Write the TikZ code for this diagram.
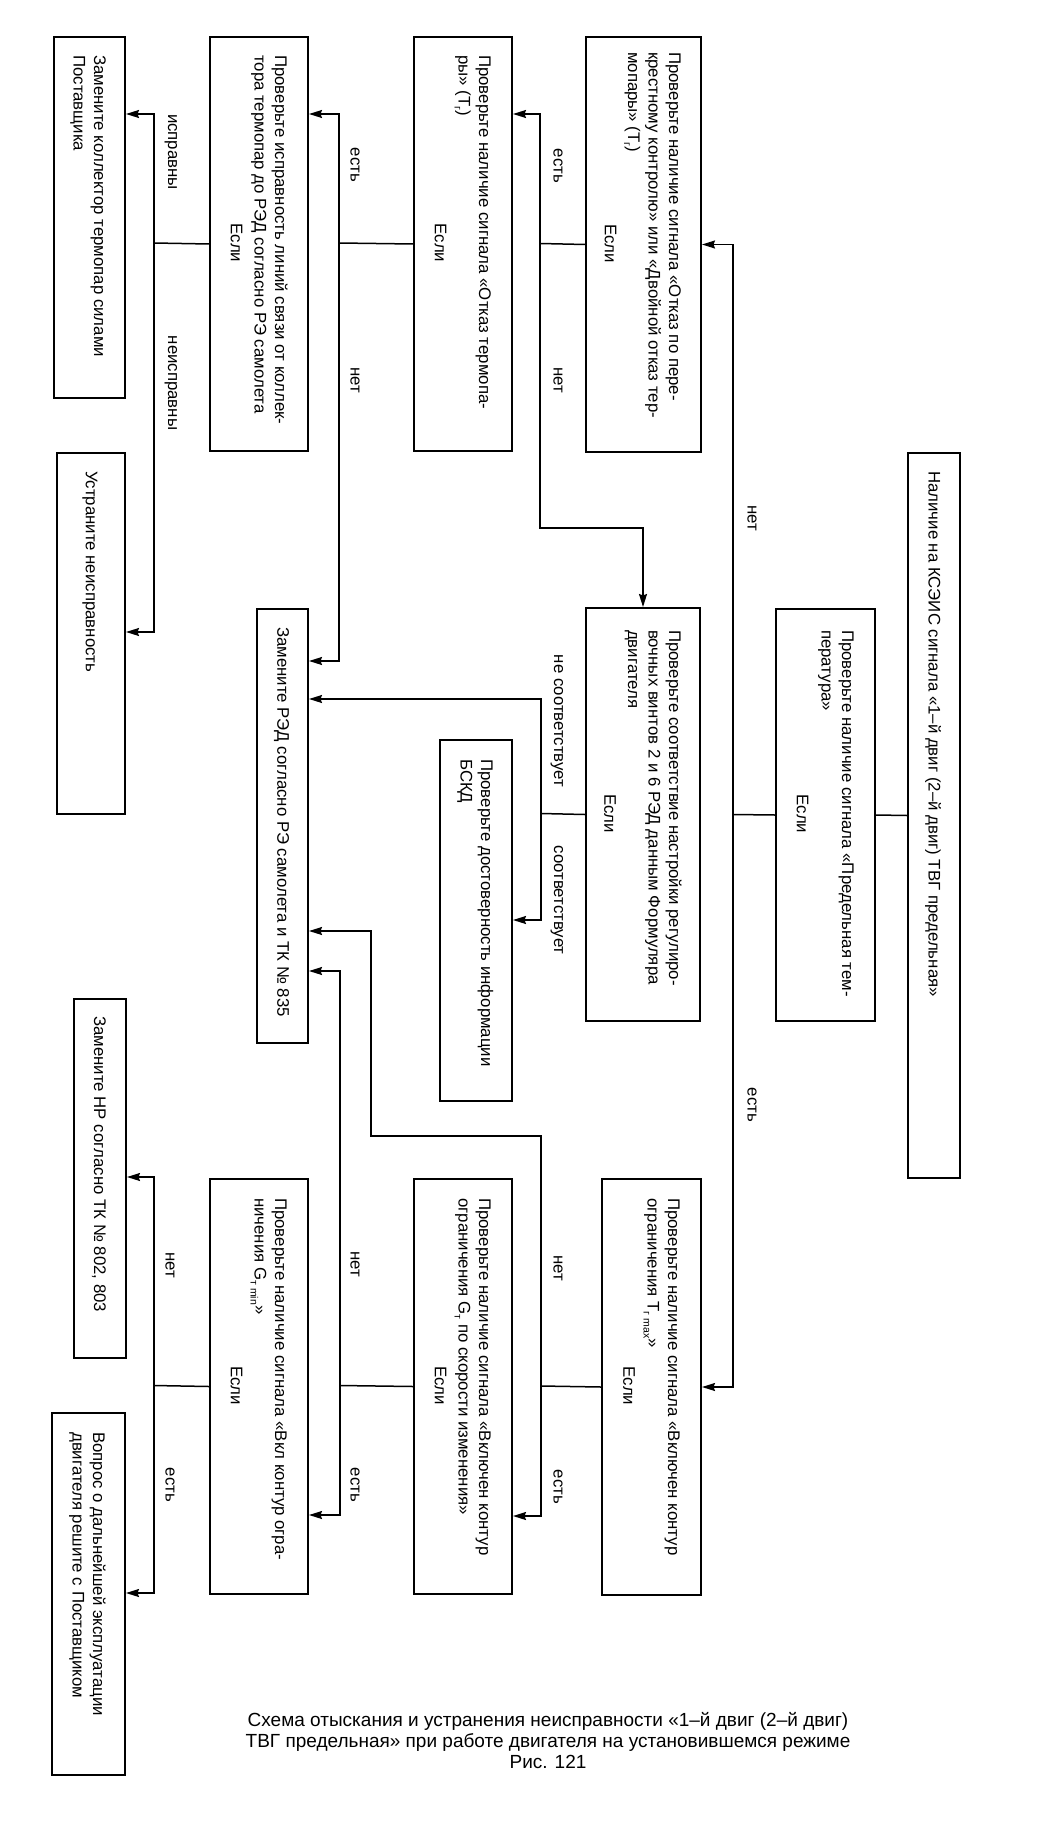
\documentclass[tikz,border=0pt]{standalone}
\usepackage{fontspec}
\setmainfont{Liberation Sans}
\usetikzlibrary{arrows.meta}
\newcommand\sbs[1]{\raisebox{-0.25em}{\fontsize{10.5}{10.5}\selectfont #1}}
\newcommand\fs{\rule{0pt}{12.6pt}}
\newcommand\boxfont{\fontsize{16.8}{20.5}\selectfont}
\tikzset{
  box/.style={draw, line width=2pt, inner sep=0pt, anchor=north west, rectangle},
  txt/.style={rotate=-90, anchor=north west, align=left, inner sep=0pt, font=\boxfont},
  one/.style={rotate=-90, anchor=west, inner sep=0pt, font=\boxfont},
  lbl/.style={rotate=-90, anchor=center, inner sep=0pt, font=\boxfont},
  wire/.style={line width=1.5pt},
  arr/.style={wire, -{Stealth[length=13pt,width=8pt,inset=1.5pt]}}
}
\begin{document}
\begin{tikzpicture}[x=1pt,y=-1pt]
\useasboundingbox (0,0) rectangle (1049,1843);
\fill[white] (0,0) rectangle (1049,1843);
% boxes
\node[box, minimum width=52pt, minimum height=725pt] (bT0) at (907,452) {};
\node[box, minimum width=99pt, minimum height=412pt] (bB1) at (775,608) {};
\node[box, minimum width=115pt, minimum height=415pt] (bA) at (585,36) {};
\node[box, minimum width=114pt, minimum height=413pt] (bC) at (585,607) {};
\node[box, minimum width=72pt, minimum height=361pt] (bF) at (439,739) {};
\node[box, minimum width=99pt, minimum height=416pt] (bD) at (601,1178) {};
\node[box, minimum width=98pt, minimum height=414pt] (bE) at (413,36) {};
\node[box, minimum width=98pt, minimum height=415pt] (bG) at (413,1178) {};
\node[box, minimum width=98pt, minimum height=414pt] (bH) at (209,36) {};
\node[box, minimum width=51pt, minimum height=434pt] (bI) at (256,608) {};
\node[box, minimum width=98pt, minimum height=415pt] (bJ) at (209,1178) {};
\node[box, minimum width=71pt, minimum height=361pt] (bK) at (53,36) {};
\node[box, minimum width=68pt, minimum height=361pt] (bL) at (56,452) {};
\node[box, minimum width=52pt, minimum height=359pt] (bM) at (73,998) {};
\node[box, minimum width=73pt, minimum height=362pt] (bN) at (51,1412) {};
% texts
\node[one] (tT0) at (933,471) {Наличие на КСЭИС сигнала «1–й двиг (2–й двиг) ТВГ предельная»};
\node[txt] (tB1) at (855,630) {\fs Проверьте наличие сигнала «Предельная тем-\\пература»};
\node[lbl] (eB1) at (802.5,814) {Если};
\node[txt] (tA) at (682,52) {\fs Проверьте наличие сигнала «Отказ по пере-\\крестному контролю» или «Двойной отказ тер-\\мопары» (Т\sbs{г})};
\node[lbl] (eA) at (610.5,243.5) {Если};
\node[txt] (tC) at (682,630) {\fs Проверьте соответствие настройки регулиро-\\вочных винтов 2 и 6 РЭД данным Формуляра\\двигателя};
\node[lbl] (eC) at (610,813.5) {Если};
\node[txt] (tF) at (494,759) {\fs Проверьте достоверность информации\\БСКД};
\node[txt] (tD) at (681,1198) {\fs Проверьте наличие сигнала «Включен контур\\ограничения Т\sbs{г max}»};
\node[lbl] (eD) at (629,1386) {Если};
\node[txt] (tE) at (492,55) {\fs Проверьте наличие сигнала «Отказ термопа-\\ры» (Т\sbs{г})};
\node[lbl] (eE) at (440.5,243) {Если};
\node[txt] (tG) at (492,1198) {\fs Проверьте наличие сигнала «Включен контур\\ограничения G\sbs{т} по скорости изменения»};
\node[lbl] (eG) at (440.5,1385.5) {Если};
\node[txt] (tH) at (288,55) {\fs Проверьте исправность линий связи от коллек-\\тора термопар до РЭД согласно РЭ самолета};
\node[lbl] (eH) at (236.5,243) {Если};
\node[one] (tI) at (281.5,627) {Замените РЭД согласно РЭ самолета и ТК № 835};
\node[txt] (tJ) at (288,1198) {\fs Проверьте наличие сигнала «Вкл контур огра-\\ничения G\sbs{т min}»};
\node[lbl] (eJ) at (236.5,1385.5) {Если};
\node[txt] (tK) at (107,55) {\fs Замените коллектор термопар силами\\Поставщика};
\node[one] (tL) at (90,471) {Устраните неисправность};
\node[one] (tM) at (99,1016) {Замените НР согласно ТК № 802, 803};
\node[txt] (tN) at (106,1432) {\fs Вопрос о дальнейшей эксплуатации\\двигателя решите с Поставщиком};
% connectors
\coordinate (p1) at (733,814.5);
\draw[wire] (bT0.west) -- (bB1.east);
\draw[wire] (bB1.west) -- (p1);
\draw[arr] (p1) |- (bA.east);
\draw[arr] (p1) |- (bD.east);
\coordinate (p2) at (540,243.5);
\draw[wire] (bA.west) -- (p2);
\draw[arr] (p2) |- (bE.east |- 0,114);
\draw[arr] (p2) -- (540,528) -| (bC.north);
\coordinate (p3) at (339,243);
\draw[wire] (bE.west) -- (p3);
\draw[arr] (p3) |- (bH.east |- 0,114);
\draw[arr] (p3) |- (bI.east |- 0,661);
\coordinate (p4) at (154,243);
\draw[wire] (bH.west) -- (p4);
\draw[arr] (p4) |- (bK.east |- 0,114);
\draw[arr] (p4) |- (bL.east |- 0,632);
\coordinate (p5) at (541,813.5);
\draw[wire] (bC.west) -- (p5);
\draw[arr] (p5) |- (bI.east |- 0,699);
\draw[arr] (p5) |- (bF.east |- 0,920);
\coordinate (p6) at (541,1386);
\draw[wire] (bD.west) -- (p6);
\draw[arr] (p6) |- (bG.east |- 0,1516);
\draw[arr] (p6) -- (541,1136) -| (371,931) -- (bI.east |- 0,931);
\coordinate (p7) at (340,1385.5);
\draw[wire] (bG.west) -- (p7);
\draw[arr] (p7) |- (bI.east |- 0,971);
\draw[arr] (p7) |- (bJ.east |- 0,1515);
\coordinate (p8) at (154,1385.5);
\draw[wire] (bJ.west) -- (p8);
\draw[arr] (p8) |- (bM.east |- 0,1177);
\draw[arr] (p8) |- (bN.east |- 0,1593);
% labels
\node[lbl] (l1) at (752,518) {нет};
\node[lbl] (l2) at (752,1105) {есть};
\node[lbl] (l3) at (558,166) {есть};
\node[lbl] (l4) at (558,380) {нет};
\node[lbl] (l5) at (355,165) {есть};
\node[lbl] (l6) at (355,380) {нет};
\node[lbl] (l7) at (171,152) {исправны};
\node[lbl] (l8) at (171,383) {неисправны};
\node[lbl] (l9) at (557,721) {не соответствует};
\node[lbl] (l10) at (557,900) {соответствует};
\node[lbl] (l11) at (558,1268) {нет};
\node[lbl] (l12) at (558,1487) {есть};
\node[lbl] (l13) at (355,1264) {нет};
\node[lbl] (l14) at (355,1485) {есть};
\node[lbl] (l15) at (170,1265) {нет};
\node[lbl] (l16) at (170,1485) {есть};
% caption
\node[font=\fontsize{19}{21}\selectfont, align=center, inner sep=0pt] (cap) at (548,1741) {Схема отыскания и устранения неисправности «1–й двиг (2–й двиг)\\ТВГ предельная» при работе двигателя на установившемся режиме\\Рис. 121};
\end{tikzpicture}
\end{document}
